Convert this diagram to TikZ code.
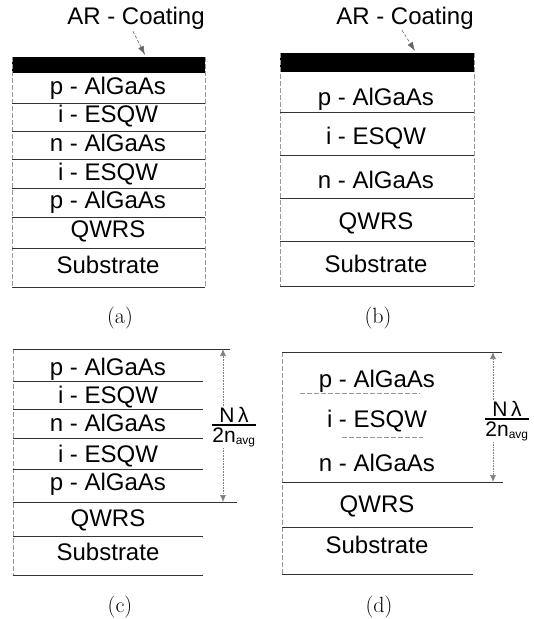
\documentclass[tikz,border=0pt]{standalone}
\usepackage{fontspec}
\setsansfont{Liberation Sans}
\usetikzlibrary{arrows.meta}

\begin{document}
\begin{tikzpicture}[x=1pt,y=-1pt,
		film/.style={font=\sffamily\fontsize{24}{27}\selectfont, inner sep=0pt, text height=17pt, text depth=0pt},
		sep/.style={line width=0.9pt, black!80},
		faint/.style={line width=0.6pt, black!40, dash pattern=on 5pt off 2pt},
		tag/.style={font=\fontsize{22}{24}\selectfont, inner sep=0pt},
		ptr/.style={-{Latex[length=9pt,width=6pt]}, line width=0.6pt, black!60, densely dashed},
		dim/.style={-{Latex[length=7pt,width=6pt]}, line width=0.6pt, black!50, densely dotted},
		frac/.style={font=\sffamily\fontsize{21}{23}\selectfont, inner sep=1pt}]
		\useasboundingbox (0,0) rectangle (534,619);

		% (a)
		\fill (12,57) rectangle (205,73);
		\draw[faint] (12,57) -- (12,287) (205,57) -- (205,287);
		\foreach \y in {103,131,159,188,217,248,287} \draw[sep] (12,\y) -- (205,\y);
		\node[film] (ara) at (136,15.5) {AR - Coating};
		\coordinate (arta) at (145,55);
		\draw[ptr] ([xshift=-3pt,yshift=-7pt]ara.south) -- (arta);
		\node[film] (a1) at (108,85.5) {p - AlGaAs};
		\node[film] (a2) at (108,114) {i - ESQW};
		\node[film] (a3) at (108,142.5) {n - AlGaAs};
		\node[film] (a4) at (108,171.5) {i - ESQW};
		\node[film] (a5) at (108,200) {p - AlGaAs};
		\node[film] (a6) at (108,228.5) {QWRS};
		\node[film] (a7) at (108,265) {Substrate};
		\node[tag] (capa) at (120,318) {(a)};

		% (b)
		\fill (280,53) rectangle (474,72);
		\draw[faint] (280,53) -- (280,286) (474,53) -- (474,286);
		\foreach \y in {112,155,198,241,286} \draw[sep] (280,\y) -- (474,\y);
		\node[film] (arb) at (405,15.5) {AR - Coating};
		\coordinate (artb) at (415,51);
		\draw[ptr] ([xshift=-3pt,yshift=-6pt]arb.south) -- (artb);
		\node[film] (b1) at (376,96.5) {p - AlGaAs};
		\node[film] (b2) at (376,135.5) {i - ESQW};
		\node[film] (b3) at (376,179.5) {n - AlGaAs};
		\node[film] (b4) at (376,221) {QWRS};
		\node[film] (b5) at (376,263.5) {Substrate};
		\node[tag] (capb) at (378,318) {(b)};

		% (c)
		\draw[faint] (13,349) -- (13,575);
		\draw[sep] (13,349) -- (230,349);
		\foreach \y in {381,409,438,469,536,575} \draw[sep] (13,\y) -- (203,\y);
		\draw[sep] (13,502) -- (237,502);
		\node[film] (c1) at (108,366.5) {p - AlGaAs};
		\node[film] (c2) at (108,395) {i - ESQW};
		\node[film] (c3) at (108,422.5) {n - AlGaAs};
		\node[film] (c4) at (108,453.5) {i - ESQW};
		\node[film] (c5) at (108,481.5) {p - AlGaAs};
		\node[film] (c6) at (108,518) {QWRS};
		\node[film] (c7) at (108,552) {Substrate};
		\coordinate (ctop) at (223,349);
		\coordinate (cbot) at (223,502);
		\node[frac] (cf) at (234,427) {${\mbox{N\,λ}\above 1.6pt \mbox{2n}_{\mbox{\fontsize{12}{12}\selectfont avg}}}$};
		\draw[dim] (cf.north -| ctop) -- (ctop);
		\draw[dim] (cf.south -| ctop) -- (cbot);
		\node[tag] (capc) at (120,607) {(c)};

		% (d)
		\draw[faint] (282,352) -- (282,574);
		\draw[sep] (282,352) -- (502,352);
		\draw[faint] (300,393) -- (420,393) (342,437) -- (423,437);
		\draw[sep] (282,482) -- (503,482);
		\foreach \y in {527,574} \draw[sep] (282,\y) -- (473,\y);
		\node[film] (d1) at (377,378.5) {p - AlGaAs};
		\node[film] (d2) at (377,418.5) {i - ESQW};
		\node[film] (d3) at (377,462.5) {n - AlGaAs};
		\node[film] (d4) at (377,504) {QWRS};
		\node[film] (d5) at (377,545) {Substrate};
		\coordinate (dtop) at (493,352);
		\coordinate (dbot) at (493,482);
		\node[frac] (df) at (507,421) {${\mbox{N\,λ}\above 1.6pt \mbox{2n}_{\mbox{\fontsize{12}{12}\selectfont avg}}}$};
		\draw[dim] (df.north -| dtop) -- (dtop);
		\draw[dim] (df.south -| dtop) -- (dbot);
		\node[tag] (capd) at (379,607) {(d)};
\end{tikzpicture}
\end{document}
